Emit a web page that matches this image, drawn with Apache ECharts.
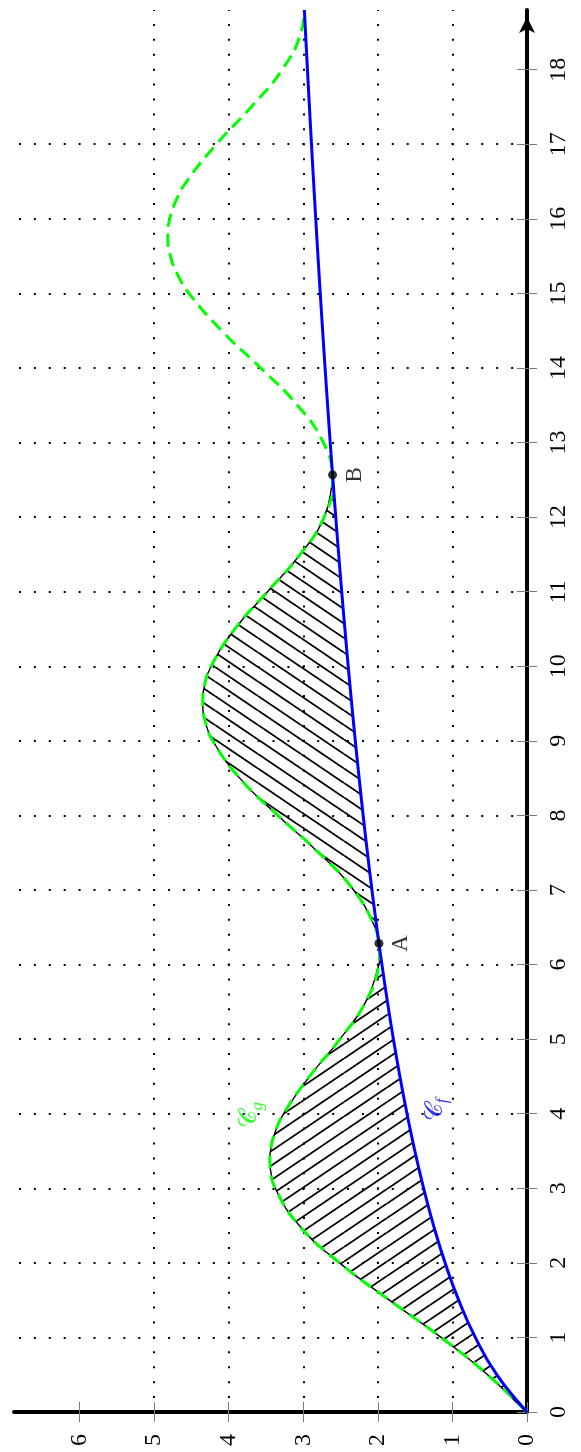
<!DOCTYPE html>
<html><head><meta charset="utf-8">
<script src="https://cdn.jsdelivr.net/npm/echarts@6/dist/echarts.min.js"></script>
<style>html,body{margin:0;padding:0;background:#fff}#c{width:581px;height:1452px}</style>
</head><body><div id="c"></div>
<script>
// ---- data (x runs upward on the page, y runs leftward) ----
const xValues = [0,0.5,1,1.5,2,2.5,3,3.25,3.372,3.5,3.75,4,4.5,5,5.5,6,6.1,6.2832,6.5,7,7.5,8,8.5,9,9.25,9.5,9.75,10,10.5,11,11.5,12,12.5,12.5664,13,13.5,14,14.5,15,15.25,15.5,15.768,16,16.25,16.5,17,17.5,18,18.5,18.8];
const fValues = [0,0.4055,0.6931,0.9163,1.0986,1.2528,1.3863,1.4469,1.4752,1.5041,1.5581,1.6094,1.7047,1.7918,1.8718,1.9459,1.9601,1.9856,2.0149,2.0794,2.1401,2.1972,2.2513,2.3026,2.3273,2.3514,2.3749,2.3979,2.4423,2.4849,2.5257,2.5649,2.6027,2.6076,2.6391,2.6741,2.7081,2.7408,2.7726,2.7881,2.8034,2.8195,2.8332,2.8478,2.8622,2.8904,2.9178,2.9444,2.9704,2.9857];
const gValues = [0,0.5279,1.1528,1.8456,2.5147,3.0539,3.3763,3.4410,3.4488,3.4406,3.3787,3.2630,2.9155,2.5081,2.1631,1.9857,1.9768,1.9856,2.0383,2.3255,2.7935,3.3427,3.8534,4.2139,4.3121,4.3487,4.3225,4.2370,3.9179,3.4805,3.0425,2.7210,2.6049,2.6076,2.7316,3.0791,3.5713,4.0957,4.5323,4.6850,4.7818,4.8177,4.7909,4.7045,4.5646,4.1656,3.6984,3.2841,3.0309,2.9869];
const hatchRanges = [[0, 6.2832], [6.2832, 12.5664]];
const pointNames = ['A', 'B'];
const pointX = [6.2832, 12.5664];
const pointY = [1.9856, 2.6076];
const curveLabelNames = ['g', 'f'];
const curveLabelX = [3.98, 4.05];
const curveLabelY = [3.72, 1.23];
const xTicks = [0,1,2,3,4,5,6,7,8,9,10,11,12,13,14,15,16,17,18];
const yTicks = [0,1,2,3,4,5,6];
const xMax = 18.8, yMax = 6.88;

// ---- layout ----
const W = 581, H = 1452;
const gridLeft = 14, gridRight = 54, gridTop = 10, gridBottom = 40;
const gridW = W - gridLeft - gridRight, gridH = H - gridTop - gridBottom;
const dotPeriodV = gridH / xMax / 5;
const dotPeriodH = gridW / yMax / 5;
const dotLen = 2;
const offV = 1 - (gridH % dotPeriodV);
const offH = 1 - (gridW % dotPeriodH);

const GREEN = '#00ff00', BLUE = '#0000ff';
const serif = "'Liberation Serif','DejaVu Serif',serif";

function hatchCanvas(dir) {
  const w = 43, h = 29;
  const c = document.createElement('canvas'); c.width = w; c.height = h;
  const ctx = c.getContext('2d');
  ctx.strokeStyle = '#000'; ctx.lineWidth = 1.8;
  for (let k = -3; k <= 3; k++) {
    ctx.beginPath();
    if (dir > 0) { ctx.moveTo(0, h + k * h / 2); ctx.lineTo(w, k * h / 2); }
    else { ctx.moveTo(0, k * h / 2); ctx.lineTo(w, h + k * h / 2); }
    ctx.stroke();
  }
  return c;
}
const patterns = [hatchCanvas(1), hatchCanvas(-1)];

const chart = echarts.init(document.getElementById('c'), null, {renderer: 'canvas'});
const tickStyle = {color: '#7a7a7a', width: 1};

chart.setOption({
  animation: false,
  backgroundColor: '#fff',
  grid: {left: gridLeft, right: gridRight, top: gridTop, bottom: gridBottom, containLabel: false, outerBoundsMode: 'none'},
  xAxis: [
    {
      type: 'value', min: 0, max: yMax, interval: 1, inverse: true, position: 'bottom',
      axisLine: {show: true, onZero: false, lineStyle: {color: '#000', width: 4}},
      axisTick: {show: true, inside: false, length: 10, customValues: yTicks, lineStyle: tickStyle},
      axisLabel: {show: true, rotate: 90, margin: 22, customValues: yTicks, fontFamily: serif, fontSize: 24, color: '#000'},
      splitLine: {show: true, showMinLine: false, showMaxLine: false,
        lineStyle: {color: '#000', width: 2, type: [dotLen, dotPeriodV - dotLen], dashOffset: offV}}
    },
    {
      type: 'value', min: 0, max: yMax, interval: 1, inverse: true, position: 'top', offset: -gridH,
      axisLine: {show: false, onZero: false},
      axisTick: {show: true, inside: false, length: 10, customValues: yTicks, lineStyle: tickStyle},
      axisLabel: {show: false}, splitLine: {show: false}
    }
  ],
  yAxis: [
    {
      type: 'value', min: 0, max: xMax, interval: 1, position: 'right',
      axisLine: {show: true, onZero: false, lineStyle: {color: '#000', width: 4},
        symbol: ['none', 'arrow'], symbolSize: [12, 16], symbolOffset: [0, -7]},
      axisTick: {show: true, inside: false, length: 10, customValues: xTicks, lineStyle: tickStyle},
      axisLabel: {show: true, rotate: 90, margin: 20, customValues: xTicks, fontFamily: serif, fontSize: 24, color: '#000'},
      splitLine: {show: true, showMinLine: false, showMaxLine: false,
        lineStyle: {color: '#000', width: 2, type: [dotLen, dotPeriodH - dotLen], dashOffset: offH}}
    },
    {
      type: 'value', min: 0, max: xMax, interval: 1, position: 'left', offset: -gridW,
      axisLine: {show: false, onZero: false},
      axisTick: {show: true, inside: false, length: 10, customValues: xTicks, lineStyle: tickStyle},
      axisLabel: {show: false}, splitLine: {show: false}
    }
  ],
  series: [
    {
      type: 'custom', xAxisIndex: 0, yAxisIndex: 0, z: 2, silent: true,
      data: hatchRanges.map(r => [0, r[0]]),
      renderItem: function (params, api) {
        const r = hatchRanges[params.dataIndex];
        const up = [], down = [], idx = [];
        for (let i = 0; i < xValues.length; i++) {
          if (xValues[i] >= r[0] - 1e-9 && xValues[i] <= r[1] + 1e-9) idx.push(i);
        }
        idx.forEach(i => up.push(api.coord([gValues[i], xValues[i]])));
        for (let j = idx.length - 2; j >= 1; j--) {
          const i = idx[j];
          down.push(api.coord([fValues[i], xValues[i]]));
        }
        return {
          type: 'polygon',
          shape: {points: up.concat(down), smooth: 0.5},
          style: {fill: {image: patterns[params.dataIndex], repeat: 'repeat'}, stroke: '#000', lineWidth: 1.4}
        };
      }
    },
    {
      type: 'line', name: 'g', z: 3, smooth: 0.5, showSymbol: false, silent: true,
      data: xValues.map((x, i) => [gValues[i], x]),
      lineStyle: {color: GREEN, width: 3, type: [13, 7]}
    },
    {
      type: 'line', name: 'f', z: 4, smooth: 0.5, showSymbol: false, silent: true,
      data: xValues.map((x, i) => [fValues[i], x]),
      lineStyle: {color: BLUE, width: 3}
    },
    {
      type: 'scatter', z: 5, symbolSize: 9, silent: true,
      itemStyle: {color: '#000'},
      data: pointNames.map((n, i) => ({name: n, value: [pointY[i], pointX[i]]})),
      label: {show: true, position: 'right', distance: 6, rotate: 90, align: 'center', verticalAlign: 'top',
        formatter: '{b}', fontFamily: serif, fontSize: 23, color: '#000'}
    },
    {
      type: 'scatter', z: 6, symbol: 'circle', symbolSize: 1, silent: true,
      itemStyle: {color: 'rgba(0,0,0,0)'},
      data: curveLabelNames.map((n, i) => ({
        name: n, value: [curveLabelY[i], curveLabelX[i]],
        label: {color: n === 'g' ? GREEN : BLUE}
      })),
      label: {show: true, position: 'inside', rotate: 90,
        formatter: p => '{c|𝒞}{s|' + p.name + '}',
        rich: {
          c: {fontFamily: "'DejaVu Serif','DejaVu Sans','Noto Sans',serif", fontSize: 25, lineHeight: 32, verticalAlign: 'middle'},
          s: {fontFamily: serif, fontStyle: 'italic', fontSize: 17, verticalAlign: 'bottom'}
        }}
    }
  ]
});
</script>
</body></html>
